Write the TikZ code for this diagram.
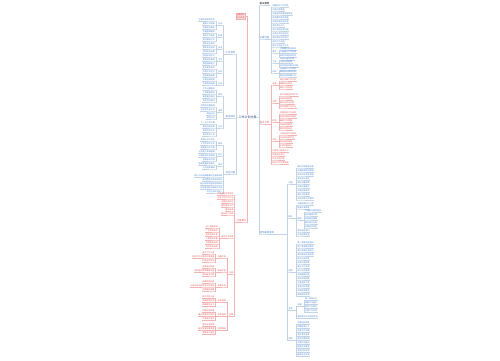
\documentclass[tikz,border=0pt]{standalone}
\usepackage{fontspec}
\newfontfamily\cjk{Noto Sans CJK SC}
\definecolor{mmblue}{HTML}{4A86CF}
\definecolor{mmred}{HTML}{E0585B}
\definecolor{mmnavy}{HTML}{1F3B70}
\definecolor{lnblue}{HTML}{C3D3E6}
\definecolor{lnred}{HTML}{F0B4B4}
\definecolor{pinkbg}{HTML}{F9DADB}
\newcommand{\lf}{\cjk\fontsize{2}{2.5}\selectfont}
\newcommand{\hf}{\cjk\fontsize{2.4}{2.9}\selectfont}

\begin{document}
\begin{tikzpicture}[x=1pt, y=-1pt,
        tb/.style={font=\lf, text=mmblue, inner xsep=0.5pt, inner ysep=0.4pt},
        tr/.style={font=\lf, text=mmred, inner xsep=0.5pt, inner ysep=0.4pt},
        hb/.style={tb, font=\hf},
        hr/.style={tr, font=\hf},
        lb/.style={lnblue, line width=0.3pt},
        lr/.style={lnred, line width=0.3pt}]
    \useasboundingbox (0,0) rectangle (500,360);

    % centre
    \node[font=\cjk\fontsize{3}{3.6}\selectfont, text=mmnavy, inner sep=0.5pt] (root) at (247.5,117) {工作计划方案};

    % first level
    \node[hb, text=black, anchor=south west] (r1) at (259,5) {相关推荐};
    \node[hb, anchor=south west] (r2) at (259,39) {主要内容};
    \node[hr, anchor=south west] (r3) at (259,124) {重点工作};
    \node[hb, anchor=south west] (r4) at (259,234) {其他事项安排};
    \node[tr, draw=lnred, fill=pinkbg, align=center, inner sep=0.8pt] (l0) at (240.5,16) {温馨提示\\仅供参考};
    \node[hb, anchor=south east] (l1) at (236,54) {工作目标};
    \node[hb, anchor=south east] (l2) at (236,118) {基本情况};
    \node[hb, anchor=south east] (l3) at (236,174) {存在问题};
    \node[hr, anchor=south east] (l4) at (247,222) {注意要点};

    \draw[lb] (root.east) -- ++(1.5,0) |- (r1.south west) -- (r1.south east);
    \foreach \n/\s in {r2/lb, r3/lr, r4/lb}
        \draw[\s] (root.east) -- ++(1.5,0) |- (\n.south west) -- (\n.south east);
    \foreach \n in {l1, l2, l3}
        \draw[lb] (root.west) -- ++(-1.5,0) |- (\n.south east) -- (\n.south west);
    \draw[lr] (root.north) |- (l0.east);
    \draw[lr] (root.south) |- (l4.south east) -- (l4.south west);

    % ---- right: r2 ----
    \foreach \y/\t [count=\i] in {7/明确岗位工作职责, 11/加强日常管理, 15/完善各项规章制度建设,
            19/提高整体服务质量, 23/定期开展安全检查, 27/落实责任分工, 31/及时总结反馈问题,
            35/开展业务技能培训, 39/强化团队协作意识, 43/规范工作流程, 47/提升专业能力水平} {
        \node[tb, anchor=south west] (r2l\i) at (272,\y) {\t};
        \draw[lb] (r2.south east) -- ++(1.5,0) |- (r2l\i.south west) -- (r2l\i.south east);
    }
    \node[tb, anchor=south west] (r2a) at (272,53) {要求};
    \node[tb, anchor=south west] (r2b) at (272,63) {方法};
    \node[tb, anchor=south west] (r2c) at (272,73) {目标};
    \foreach \n in {r2a, r2b, r2c}
        \draw[lb] (r2.south east) -- ++(1.5,0) |- (\n.south west) -- (\n.south east);
    \foreach \p/\y/\t [count=\i] in {r2a/50/认真履行岗位职责, r2a/53.5/严格遵守工作纪律, r2a/57/按时完成各项任务,
            r2b/60/加强沟通与协调, r2b/63.5/注重过程管理, r2b/67/及时发现并解决问题,
            r2c/70/全面提升工作效率, r2c/73.5/确保目标顺利实现, r2c/77/做好各项保障工作} {
        \node[tb, anchor=south west] (r2s\i) at (279.5,\y) {\t};
        \draw[lb] (\p.south east) -- ++(1.5,0) |- (r2s\i.south west) -- (r2s\i.south east);
    }

    % ---- right: r3 ----
    \node[tr, anchor=south west] (r3a) at (272,85) {准备};
    \node[tr, anchor=south west] (r3b) at (272,103) {实施};
    \node[tr, anchor=south west] (r3c) at (272,122) {检查};
    \node[tr, anchor=south west] (r3d) at (272,141) {总结};
    \foreach \n in {r3a, r3b, r3c, r3d}
        \draw[lr] (r3.south east) -- ++(1.5,0) |- (\n.south west) -- (\n.south east);
    \foreach \y/\t [count=\i] in {152/加强学习提高认识, 156/增强责任意识, 160/树立良好形象, 164/推动工作创新发展} {
        \node[tr, anchor=south west] (r3l\i) at (272,\y) {\t};
        \draw[lr] (r3.south east) -- ++(1.5,0) |- (r3l\i.south west) -- (r3l\i.south east);
    }
    \foreach \p/\y/\t [count=\i] in {r3a/81/制定详细工作计划, r3a/85/明确任务目标, r3a/89/做好人员安排,
            r3b/96/按计划推进各项工作, r3b/100/加强过程监督, r3b/104/做好记录与反馈, r3b/108/及时调整工作方法,
            r3c/114/定期检查工作进度, r3c/118/发现问题及时整改, r3c/122/确保工作质量, r3c/126/完善检查制度, r3c/130/做好检查记录,
            r3d/135/认真总结工作经验, r3d/139/分析存在的不足, r3d/143/提出改进措施, r3d/147/形成书面材料} {
        \node[tr, anchor=south west] (r3s\i) at (279.5,\y) {\t};
        \draw[lr] (\p.south east) -- ++(1.5,0) |- (r3s\i.south west) -- (r3s\i.south east);
    }

    % ---- right: r4 ----
    \node[tb, anchor=south west] (r4a) at (288,184) {内容};
    \node[tb, anchor=south west] (r4b) at (288,218) {要点};
    \node[tb, anchor=south west] (r4c) at (288,272) {安排};
    \node[tb, anchor=south west] (r4d) at (288,310) {落实};
    \node[tb, anchor=south west] (r4e) at (288,340) {保障};
    \foreach \n in {r4a, r4b, r4c, r4d, r4e}
        \draw[lb] (r4.south east) -- ++(12.5,0) |- (\n.south west) -- (\n.south east);
    \node[tb, anchor=south west] (r4b1) at (297,220) {细则};
    \node[tb, anchor=south west] (r4d1) at (297,306) {步骤};
    \draw[lb] (r4b.south east) -- ++(3,0) |- (r4b1.south west) -- (r4b1.south east);
    \draw[lb] (r4d.south east) -- ++(3,0) |- (r4d1.south west) -- (r4d1.south east);
    \foreach \p/\y/\t [count=\i] in {r4a/168/做好日常事务处理, r4a/172/加强档案资料管理, r4a/176/规范文件收发流程,
            r4a/180/落实会议安排, r4a/184/做好后勤保障, r4a/188/加强设备维护, r4a/192/合理控制成本,
            r4a/196/做好对外联络, r4a/200/完成领导交办事项,
            r4b/205/加强制度执行力度, r4b/209/提高办事效率, r4b/232/强化服务意识, r4b/236/主动接受监督,
            r4c/244/第一季度完成调研, r4c/248/第二季度推进落实, r4c/252/第三季度检查评估, r4c/256/第四季度总结提高,
            r4c/260/每月召开例会, r4c/264/每周汇报进展, r4c/268/建立工作台账, r4c/272/实行动态管理,
            r4c/276/加强督促检查, r4c/280/落实奖惩措施, r4c/284/注重宣传引导, r4c/288/营造良好氛围,
            r4c/292/积极稳妥推进, r4c/296/确保取得实效,
            r4d/318/确保各项工作顺利完成,
            r4e/324/加强组织领导, r4e/328/明确职责分工, r4e/332/完善工作机制, r4e/336/强化督导考核,
            r4e/340/落实经费保障, r4e/344/加强队伍建设, r4e/348/提高业务素质, r4e/352/营造良好环境,
            r4e/356/确保任务完成} {
        \node[tb, anchor=south west] (r4s\i) at (297,\y) {\t};
        \draw[lb] (\p.south east) -- ++(3,0) |- (r4s\i.south west) -- (r4s\i.south east);
    }
    \foreach \p/\y/\t [count=\i] in {r4b1/212/严格执行审批程序, r4b1/216/规范报销手续, r4b1/220/加强物品管理,
            r4b1/224/做好登记台账, r4b1/228/定期盘点清查,
            r4d1/300/统一思想认识, r4d1/304/明确工作重点, r4d1/308/狠抓工作落实, r4d1/312/注重工作实效} {
        \node[tb, anchor=south west] (r4t\i) at (304.5,\y) {\t};
        \draw[lb] (\p.south east) -- ++(1.5,0) |- (r4t\i.south west) -- (r4t\i.south east);
    }

    % ---- left: l1, l2, l3 ----
    \foreach \n/\y/\t in {l1a/25/任务, l1b/37/制度, l1c/49/安全, l1d/61/学习, l1e/73/协作, l1f/85/总结} {
        \node[tb, anchor=south east] (\n) at (223,\y) {\t};
        \draw[lb] (l1.south west) -- ++(-1.5,0) |- (\n.south east) -- (\n.south west);
    }
    \foreach \n/\y/\t in {l2a/96/现状, l2b/112/成效, l2c/128/计划} {
        \node[tb, anchor=south east] (\n) at (223,\y) {\t};
        \draw[lb] (l2.south west) -- ++(-1.5,0) |- (\n.south east) -- (\n.south west);
    }
    \foreach \n/\y/\t in {l3a/145/思想, l3b/156/能力, l3c/166/服务} {
        \node[tb, anchor=south east] (\n) at (223,\y) {\t};
        \draw[lb] (l3.south west) -- ++(-1.5,0) |- (\n.south east) -- (\n.south west);
    }
    \foreach \p/\y/\t [count=\i] in {l1a/21/全面完成年度任务, l1a/25/提高工作效率, l1a/29/加强队伍建设,
            l1b/33/完善管理制度, l1b/37/规范工作程序, l1b/41/提升服务水平,
            l1c/45/强化安全意识, l1c/49/落实安全责任, l1c/53/消除安全隐患,
            l1d/57/加强业务学习, l1d/61/提高综合素质, l1d/65/增强创新能力,
            l1e/69/密切配合协作, l1e/73/形成工作合力, l1e/77/营造和谐氛围,
            l1f/81/认真总结经验, l1f/85/不断改进提高,
            l2a/90/工作开展情况, l2a/94/人员配备情况, l2a/98/制度建设情况, l2a/102/任务完成情况,
            l2b/107/取得的主要成绩, l2b/111/存在的不足之处, l2b/115/原因分析, l2b/119/改进方向,
            l2c/124/下一步工作打算, l2c/128/重点任务安排, l2c/132/具体时间节点, l2c/136/相关责任人员,
            l3a/141/思想认识不到位, l3a/145/工作作风不扎实, l3a/149/制度执行不严格,
            l3b/153/业务能力有待提高, l3b/157/沟通协调不够顺畅, l3b/161/创新意识不强,
            l3c/165/服务质量有待提升, l3c/169/工作效率偏低} {
        \node[tb, anchor=south east] (ls\i) at (215.5,\y) {\t};
        \draw[lb] (\p.south west) -- ++(-1.5,0) |- (ls\i.south east) -- (ls\i.south west);
    }
    \foreach \y/\t [count=\i] in {177/部分工作进展缓慢存在拖延现象, 181/资料整理不够及时规范,
            185/缺乏有效的监督考核机制, 189/对新情况新问题研究不够, 193/工作方法较为单一} {
        \node[tb, anchor=south east] (l3l\i) at (223,\y) {\t};
        \draw[lb] (l3.south west) -- ++(-1.5,0) |- (l3l\i.south east) -- (l3l\i.south west);
    }

    % ---- left: l4 ----
    \foreach \y/\t [count=\i] in {195/严格遵守各项规定, 199/注意工作方式方法, 203/加强安全防范,
            207/做好保密工作, 211/廉洁自律, 215/服从统一安排} {
        \node[tr, anchor=south east] (l4l\i) at (234,\y) {\t};
        \draw[lr] (l4.south west) -- ++(-1.5,0) |- (l4l\i.south east) -- (l4l\i.south west);
    }
    \node[tr, anchor=south east] (l4c) at (234,238) {具体方法步骤};
    \node[tr, anchor=south east] (l4d) at (234,274) {实施};
    \node[tr, anchor=south east] (l4e) at (234,316) {保障};
    \foreach \n in {l4c, l4d, l4e}
        \draw[lr] (l4.south west) -- ++(-1.5,0) |- (\n.south east) -- (\n.south west);
    \foreach \n/\p/\y/\t in {l4d1/l4d/258/准备阶段, l4d2/l4d/272/推进阶段, l4d3/l4d/287/收尾阶段,
            l4e1/l4e/302/组织保障, l4e2/l4e/316/制度保障, l4e3/l4e/330/经费保障} {
        \node[tr, anchor=south east] (\n) at (226.5,\y) {\t};
        \draw[lr] (\p.south west) -- ++(-1.5,0) |- (\n.south east) -- (\n.south west);
    }
    \foreach \p/\y/\t [count=\i] in {l4c/228/深入调查研究, l4c/232/广泛听取意见, l4c/236/制定实施方案,
            l4c/240/认真组织实施, l4c/244/加强检查指导, l4c/248/及时总结经验} {
        \node[tr, anchor=south east] (l4s\i) at (218.5,\y) {\t};
        \draw[lr] (\p.south west) -- ++(-1.5,0) |- (l4s\i.south east) -- (l4s\i.south west);
    }
    \foreach \p/\y/\t [count=\i] in {l4d1/254/成立工作小组, l4d1/258/制定工作方案并动员部署, l4d1/262/开展宣传发动,
            l4d2/268/全面组织实施, l4d2/272/加强督促指导确保进度, l4d2/276/及时解决问题,
            l4d3/283/开展检查验收, l4d3/287/认真总结全面评估工作成效, l4d3/291/巩固提高成果,
            l4e1/298/成立领导小组, l4e1/302/加强统筹协调, l4e1/306/明确责任分工,
            l4e2/312/完善相关制度, l4e2/316/健全考核评价机制, l4e2/320/严格责任追究,
            l4e3/326/落实专项经费, l4e3/330/规范资金使用管理, l4e3/334/加强审计监督} {
        \node[tr, anchor=south east] (l4t\i) at (215,\y) {\t};
        \draw[lr] (\p.south west) -- ++(-1.5,0) |- (l4t\i.south east) -- (l4t\i.south west);
    }
\end{tikzpicture}
\end{document}
